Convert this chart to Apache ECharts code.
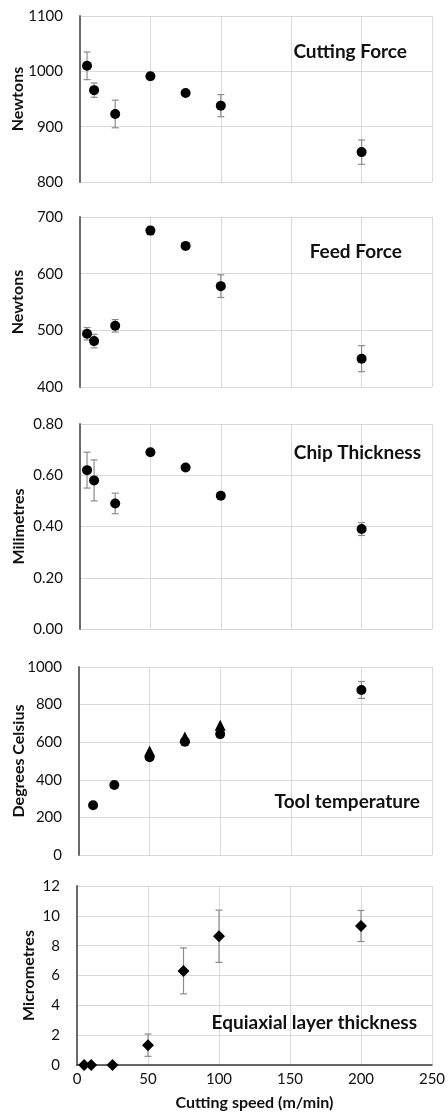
<!DOCTYPE html>
<html><head><meta charset="utf-8">
<script src="https://cdn.jsdelivr.net/npm/echarts@6/dist/echarts.min.js"></script>
<style>html,body{margin:0;padding:0;background:#fff}#c{width:448px;height:1114px}</style>
</head><body><div id="c"></div>
<script>
// ---- data ----
const speeds = [5, 10, 25, 50, 75, 100, 200];
const cuttingForce = [1010, 966, 923, 991, 961, 938, 854];
const cuttingForceErr = [25, 13, 25, 6, 3, 20, 22];
const feedForce = [494, 481, 508, 676, 649, 578, 450];
const feedForceErr = [11, 12, 11, 7, 4, 20, 23];
const chipThickness = [0.62, 0.58, 0.49, 0.69, 0.63, 0.52, 0.39];
const chipThicknessErr = [0.07, 0.08, 0.04, 0.005, 0.005, 0.012, 0.025];
const tempSpeeds = [10, 25, 50, 75, 100, 200];
const toolTemp = [265, 372, 520, 602, 643, 878];
const toolTempErr = [8, 10, 15, 20, 10, 45];
const tempSpeeds2 = [50, 75, 100];
const toolTemp2 = [553, 628, 690];
const equiaxial = [0, 0, 0, 1.33, 6.31, 8.63, 9.32];
const equiaxialErr = [0, 0, 0, 0.75, 1.54, 1.75, 1.04];
const xTicks = [0, 50, 100, 150, 200, 250];
const panelTitles = ['Cutting Force', 'Feed Force', 'Chip Thickness', 'Tool temperature', 'Equiaxial layer thickness'];
const yNames = ['Newtons', 'Newtons', 'Milimetres', 'Degrees Celsius', 'Micrometres'];
const xName = 'Cutting speed (m/min)';

// ---- layout ----
const FONT = 'Lato, "Open Sans", sans-serif';
const grids = [
  {left: 80, right: 16, top: 16, height: 166},
  {left: 80, right: 16, top: 217, height: 170},
  {left: 80, right: 16, top: 424, height: 205},
  {left: 79, right: 16, top: 667, height: 188},
  {left: 77, right: 16, top: 886, height: 179}
];
const yRanges = [[800, 1100, 100], [400, 700, 100], [0, 0.8, 0.2], [0, 1000, 200], [0, 12, 2]];
const yGaps = [54, 54, 53, 52, 40];
const titleY = [52, 252, 453, 802, 1023];
const titleRight = [407, 402, 421, 420, 417];

const grid = grids.map(g => Object.assign({containLabel: false, outerBoundsMode: 'none'}, g));
const xAxis = grids.map((g, i) => ({
  type: 'value', gridIndex: i, min: xTicks[0], max: xTicks[xTicks.length - 1],
  interval: xTicks[1] - xTicks[0],
  axisLine: {show: i === 4, onZero: false, lineStyle: {color: '#3a3a3a', width: 1.5}},
  axisTick: {show: false},
  axisLabel: {show: i === 4, fontFamily: FONT, fontSize: 15, color: '#111', margin: 7},
  splitLine: {show: true, showMinLine: false, showMaxLine: true, lineStyle: {color: '#d9d9d9', width: 1}},
  name: i === 4 ? xName : '', nameLocation: 'middle', nameGap: 30, nameMoveOverlap: false,
  nameTextStyle: {fontFamily: FONT, fontSize: 16, fontWeight: 'bold', color: '#111'}
}));
const yAxis = grids.map((g, i) => ({
  type: 'value', gridIndex: i, min: yRanges[i][0], max: yRanges[i][1], interval: yRanges[i][2],
  axisLine: {show: true, lineStyle: {color: '#6a6a6a', width: 2}},
  axisTick: {show: false},
  axisLabel: {fontFamily: FONT, fontSize: 15, color: '#111', margin: 17,
    formatter: v => i === 2 ? v.toFixed(2) : String(v)},
  splitLine: {show: true, lineStyle: {color: '#d9d9d9', width: 1}},
  name: yNames[i], nameLocation: 'middle', nameGap: yGaps[i], nameRotate: 90, nameMoveOverlap: false,
  nameTextStyle: {fontFamily: FONT, fontSize: 16, fontWeight: 'bold', color: '#111'}
}));

function errSeries(idx, xs, ys, es) {
  return {
    type: 'custom', xAxisIndex: idx, yAxisIndex: idx, z: 1,
    data: xs.map((x, k) => [x, ys[k] - es[k], ys[k] + es[k]]),
    renderItem: (params, api) => {
      const lo = api.coord([api.value(0), api.value(1)]);
      const hi = api.coord([api.value(0), api.value(2)]);
      const w = 3.5;
      const st = {stroke: '#8c8c8c', lineWidth: 1.2};
      return {type: 'group', children: [
        {type: 'line', shape: {x1: lo[0], y1: lo[1], x2: hi[0], y2: hi[1]}, style: st},
        {type: 'line', shape: {x1: lo[0] - w, y1: lo[1], x2: lo[0] + w, y2: lo[1]}, style: st},
        {type: 'line', shape: {x1: hi[0] - w, y1: hi[1], x2: hi[0] + w, y2: hi[1]}, style: st}
      ]};
    }
  };
}
function pts(idx, xs, ys, symbol, size) {
  return {
    type: 'scatter', xAxisIndex: idx, yAxisIndex: idx, z: 3,
    symbol: symbol, symbolSize: size, itemStyle: {color: '#000', opacity: 1},
    data: xs.map((x, k) => [x, ys[k]])
  };
}

const series = [
  errSeries(0, speeds, cuttingForce, cuttingForceErr), pts(0, speeds, cuttingForce, 'circle', 10),
  errSeries(1, speeds, feedForce, feedForceErr), pts(1, speeds, feedForce, 'circle', 10),
  errSeries(2, speeds, chipThickness, chipThicknessErr), pts(2, speeds, chipThickness, 'circle', 10),
  errSeries(3, tempSpeeds, toolTemp, toolTempErr), pts(3, tempSpeeds2, toolTemp2, 'triangle', 11),
  pts(3, tempSpeeds, toolTemp, 'circle', 10),
  errSeries(4, speeds, equiaxial, equiaxialErr), pts(4, speeds, equiaxial, 'diamond', 12)
];

const graphic = panelTitles.map((t, i) => ({
  type: 'text', x: titleRight[i], y: titleY[i], z: 10,
  style: {text: t, textAlign: 'right', textVerticalAlign: 'middle',
    font: 'bold 19px ' + FONT, fill: '#111'}
}));

const chart = echarts.init(document.getElementById('c'), null, {renderer: 'canvas'});
chart.setOption({animation: false, backgroundColor: '#fff', grid, xAxis, yAxis, series, graphic});
</script></body></html>
